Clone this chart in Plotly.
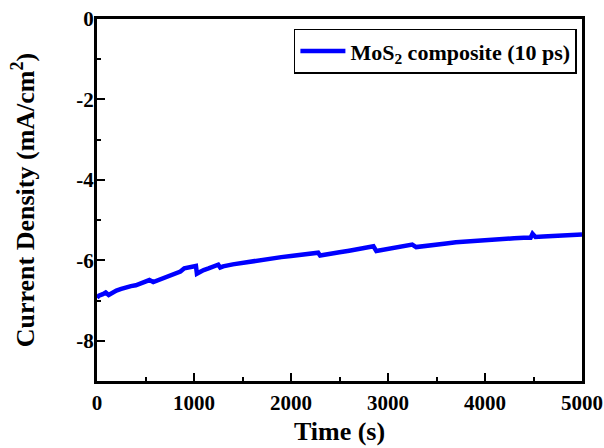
import plotly.graph_objects as go

time_s = [0, 20, 60, 90, 120, 160, 200, 250, 300, 350, 400, 450, 500, 540, 580, 620, 680, 740,
          800, 860, 900, 950, 1010, 1020, 1030, 1060, 1100, 1150, 1200, 1250, 1270, 1300, 1400,
          1500, 1600, 1700, 1800, 1900, 2000, 2100, 2200, 2280, 2300, 2400, 2500, 2600, 2700,
          2800, 2850, 2880, 2950, 3050, 3150, 3250, 3290, 3400, 3500, 3600, 3700, 3800, 3900,
          4000, 4100, 4200, 4300, 4400, 4470, 4490, 4520, 4600, 4700, 4800, 4900, 5000]
current_density = [-6.93, -6.88, -6.84, -6.80, -6.86, -6.80, -6.75, -6.71, -6.67, -6.64, -6.62,
                   -6.58, -6.54, -6.49, -6.54, -6.50, -6.45, -6.41, -6.35, -6.28, -6.20, -6.17,
                   -6.12, -6.14, -6.33, -6.28, -6.24, -6.20, -6.15, -6.11, -6.18, -6.15, -6.10,
                   -6.06, -6.02, -5.99, -5.95, -5.92, -5.89, -5.86, -5.84, -5.81, -5.88, -5.83,
                   -5.80, -5.76, -5.72, -5.68, -5.65, -5.77, -5.74, -5.70, -5.66, -5.61, -5.67,
                   -5.63, -5.60, -5.58, -5.55, -5.53, -5.51, -5.49, -5.48, -5.46, -5.45, -5.44,
                   -5.44, -5.34, -5.42, -5.41, -5.40, -5.39, -5.38, -5.36]

series_name = "MoS<sub>2</sub> composite (10 ps)"
x_title = "Time (s)"
y_title = "Current Density (mA/cm<sup>2</sup>)"
x_ticks = [0, 1000, 2000, 3000, 4000, 5000]
y_ticks = [0, -2, -4, -6, -8]

font_family = "Liberation Serif"

fig = go.Figure()
fig.add_trace(go.Scatter(x=time_s, y=current_density, mode="lines", name=series_name,
                         line=dict(color="#0000FF", width=4.5)))

fig.update_layout(
    width=604, height=448,
    margin=dict(l=97, r=22, t=19, b=67),
    plot_bgcolor="white", paper_bgcolor="white",
    font=dict(family=font_family, color="black"),
    showlegend=True,
    legend=dict(x=0.406, y=0.973, xanchor="left", yanchor="top",
                bordercolor="black", borderwidth=1.5, bgcolor="white", itemwidth=45,
                font=dict(family=font_family, size=22, color="black", weight="bold")),
)

fig.update_xaxes(
    range=[0, 5000], tickvals=x_ticks, ticktext=[str(v) for v in x_ticks],
    showgrid=False, zeroline=False, automargin=False,
    showline=True, linecolor="black", linewidth=3, mirror=True,
    ticks="inside", ticklen=8, tickwidth=2, tickcolor="black",
    minor=dict(ticks="inside", ticklen=4, tickwidth=2, tickcolor="black", dtick=500, showgrid=False),
    tickfont=dict(family=font_family, size=21, color="black", weight="bold"),
    ticklabelstandoff=1,
    title=dict(text=x_title, font=dict(family=font_family, size=26, color="black", weight="bold"),
               standoff=8),
)
fig.update_yaxes(
    range=[-9, 0], tickvals=y_ticks, ticktext=[str(v) for v in y_ticks],
    showgrid=False, zeroline=False, automargin=False,
    showline=True, linecolor="black", linewidth=3, mirror=True,
    ticks="inside", ticklen=8, tickwidth=2, tickcolor="black",
    minor=dict(ticks="inside", ticklen=4, tickwidth=2, tickcolor="black", dtick=1, showgrid=False),
    tickfont=dict(family=font_family, size=21, color="black", weight="bold"),
    ticklabelstandoff=-4,
    title=dict(text=y_title, font=dict(family=font_family, size=26, color="black", weight="bold"),
               standoff=35),
)

fig.write_html("out.html", config={"displayModeBar": False},
               post_script="document.body.style.margin='0';")
